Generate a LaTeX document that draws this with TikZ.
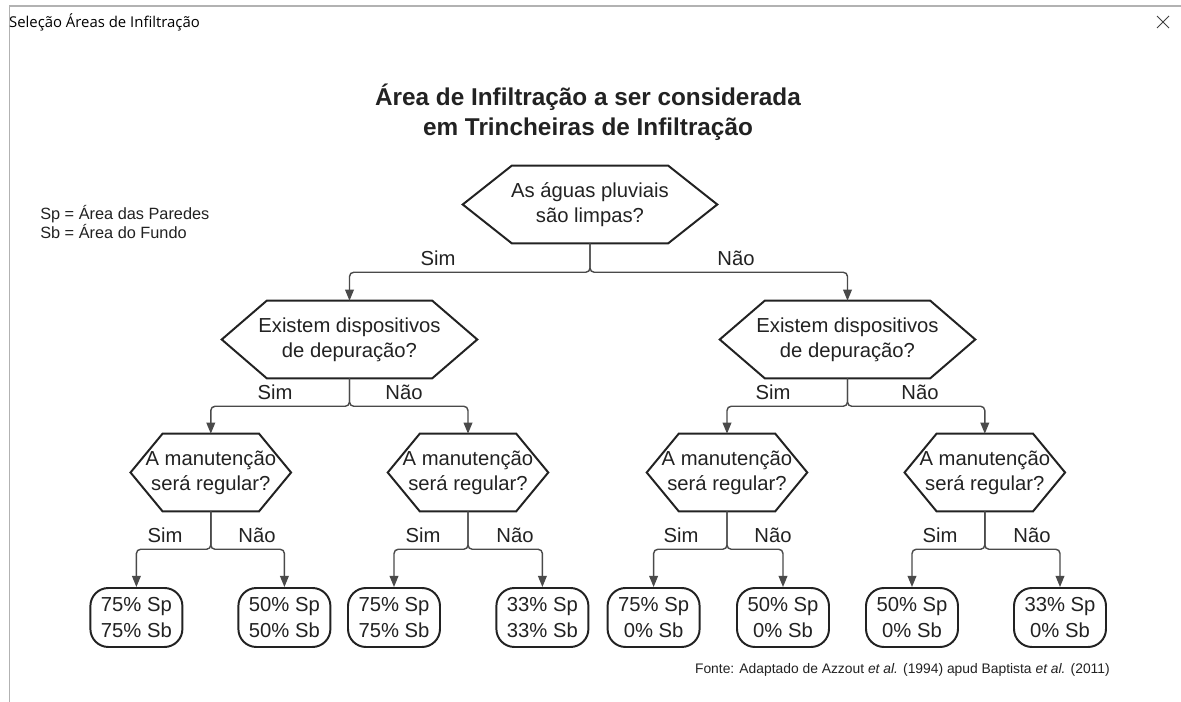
\documentclass[tikz,border=0pt]{standalone}
\usepackage{fontspec}
\setmainfont{Liberation Sans}
\newfontfamily\winfont{Open Sans}
\usetikzlibrary{arrows.meta}

\definecolor{edgegray}{HTML}{4A4A4A}
\definecolor{inkgray}{HTML}{222222}

\tikzset{
  question/.style={minimum height=1.925cm, inner sep=0pt, align=center, text=inkgray,
    font=\fontsize{14.4}{17.7}\selectfont},
  result/.style={draw=inkgray, line width=1.4pt, rounded corners=0.45cm, minimum width=2.3cm,
    minimum height=1.475cm, inner sep=0pt, align=center, text=inkgray,
    font=\fontsize{14.4}{19}\selectfont},
  answer/.style={text=inkgray, font=\fontsize{14.4}{17}\selectfont},
  flow/.style={draw=edgegray, line width=1pt, rounded corners=3pt,
    -{Triangle[length=2.8mm,width=2.2mm]}}
}

% hexagon round a question node: name, length of the point
\newcommand{\hexa}[2]{%
  \draw[inkgray, line width=1.4pt] ([xshift=#2]#1.north west) -- ([xshift=-#2]#1.north east)
    -- (#1.east) -- ([xshift=-#2]#1.south east) -- ([xshift=#2]#1.south west) -- (#1.west) -- cycle;}
% split below a question: parent, child, drop
\newcommand{\branch}[3]{\draw[flow] (#1.south) -- ++(0,-#3) -| (#2.north);}

\begin{document}
\begin{tikzpicture}
    \useasboundingbox (0,0) rectangle (29.525,17.55);
    \fill[white] (0,0) rectangle (29.525,17.55);

    % Window frame
    \draw[gray!60, line width=1pt] (0.2375,0) -- (0.2375,17.40) -- (29.525,17.40);
    \node[right, inner sep=0pt] (wintitle) at (0.22,17.0) {\winfont\fontsize{10.6}{12}\selectfont Seleção Áreas de Infiltração};
    \draw[black!75, line width=0.6pt] (28.925,16.85) -- (29.225,17.15);
    \draw[black!75, line width=0.6pt] (28.925,17.15) -- (29.225,16.85);

    % Title and legend
    \node[align=center, text=inkgray, font=\bfseries\fontsize{17.3}{21.3}\selectfont] (title) at (14.70,14.75)
        {Área de Infiltração a ser considerada\\em Trincheiras de Infiltração};
    \node[right, align=left, inner sep=0pt, text=inkgray, font=\fontsize{11.6}{14.2}\selectfont] (legend) at (1.0,12.0)
        {Sp = Área das Paredes\\Sb = Área do Fundo};

    % Questions
    \node[question, minimum width=6.35cm] (q1) at (14.75,12.4375) {As águas pluviais\\são limpas?};
    \node[question, minimum width=6.375cm] (q2l) at (8.7375,9.0625) {Existem dispositivos\\de depuração?};
    \node[question, minimum width=6.375cm] (q2r) at (21.1875,9.0625) {Existem dispositivos\\de depuração?};
    \node[question, minimum width=4.0cm] (q3a) at (5.27,5.7375) {A manutenção\\será regular?};
    \node[question, minimum width=4.0cm] (q3b) at (11.70,5.7375) {A manutenção\\será regular?};
    \node[question, minimum width=4.0cm] (q3c) at (18.175,5.7375) {A manutenção\\será regular?};
    \node[question, minimum width=4.0cm] (q3d) at (24.62,5.7375) {A manutenção\\será regular?};
    \hexa{q1}{1.225cm}
    \hexa{q2l}{1.125cm}
    \hexa{q2r}{1.125cm}
    \hexa{q3a}{0.8cm}
    \hexa{q3b}{0.8cm}
    \hexa{q3c}{0.8cm}
    \hexa{q3d}{0.8cm}

    % Results
    \node[result] (r1) at (3.41,2.1125) {75\% Sp\\75\% Sb};
    \node[result] (r2) at (7.11,2.1125) {50\% Sp\\50\% Sb};
    \node[result] (r3) at (9.85,2.1125) {75\% Sp\\75\% Sb};
    \node[result] (r4) at (13.56,2.1125) {33\% Sp\\33\% Sb};
    \node[result] (r5) at (16.34,2.1125) {75\% Sp\\0\% Sb};
    \node[result] (r6) at (19.575,2.1125) {50\% Sp\\0\% Sb};
    \node[result] (r7) at (22.80,2.1125) {50\% Sp\\0\% Sb};
    \node[result] (r8) at (26.50,2.1125) {33\% Sp\\0\% Sb};

    % Connectors
    \branch{q1}{q2l}{0.725}
    \branch{q1}{q2r}{0.725}
    \branch{q2l}{q3a}{0.7}
    \branch{q2l}{q3b}{0.7}
    \branch{q2r}{q3c}{0.7}
    \branch{q2r}{q3d}{0.7}
    \branch{q3a}{r1}{0.95}
    \branch{q3a}{r2}{0.95}
    \branch{q3b}{r3}{0.95}
    \branch{q3b}{r4}{0.95}
    \branch{q3c}{r5}{0.95}
    \branch{q3c}{r6}{0.95}
    \branch{q3d}{r7}{0.95}
    \branch{q3d}{r8}{0.95}

    % Answers
    \node[answer] (a1s) at (10.95,11.1) {Sim};
    \node[answer] (a1n) at (18.40,11.1) {Não};
    \node[answer] (a2ls) at (6.875,7.75) {Sim};
    \node[answer] (a2ln) at (10.10,7.75) {Não};
    \node[answer] (a2rs) at (19.325,7.75) {Sim};
    \node[answer] (a2rn) at (23.00,7.75) {Não};
    \node[answer] (a3as) at (4.125,4.175) {Sim};
    \node[answer] (a3an) at (6.425,4.175) {Não};
    \node[answer] (a3bs) at (10.575,4.175) {Sim};
    \node[answer] (a3bn) at (12.875,4.175) {Não};
    \node[answer] (a3cs) at (17.025,4.175) {Sim};
    \node[answer] (a3cn) at (19.325,4.175) {Não};
    \node[answer] (a3ds) at (23.50,4.175) {Sim};
    \node[answer] (a3dn) at (25.80,4.175) {Não};

    % Source
    \node[left, inner sep=0pt, text=inkgray, font=\fontsize{9.85}{12}\selectfont] (source) at (27.75,0.8)
        {Fonte: Adaptado de Azzout \textit{et al.} (1994) apud Baptista \textit{et al.} (2011)};
\end{tikzpicture}
\end{document}
